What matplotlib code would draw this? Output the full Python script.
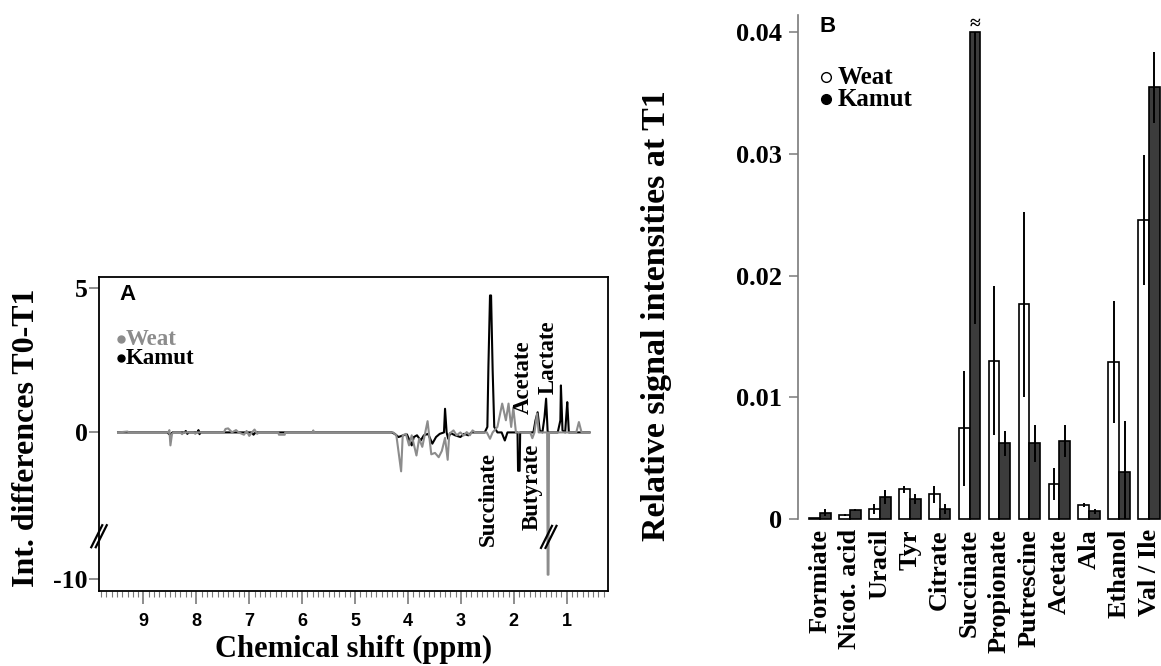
import matplotlib
matplotlib.use("Agg")

import numpy as np
import matplotlib.pyplot as plt
from matplotlib.lines import Line2D
from matplotlib.ticker import MultipleLocator, FormatStrFormatter
from matplotlib.transforms import IdentityTransform

SERIF = ["Liberation Serif", "DejaVu Serif"]
SANS = ["Liberation Sans", "DejaVu Sans"]
NARROW = ["Liberation Sans Narrow", "Liberation Sans", "DejaVu Sans"]

W, H = 1161, 666

# --- panel A: T0-T1 difference spectra (ppm, intensity) vertices ---
weat_ppm = [9.48, 9.30, 9.28, 8.53, 8.51, 8.49, 8.46, 8.43, 8.30, 8.27, 8.24,
            8.05, 8.02, 8.00, 7.48, 7.45, 7.40, 7.35, 7.33, 7.25, 7.20, 7.10,
            7.05, 7.00, 6.95, 6.90, 6.85, 6.82, 6.45, 6.44, 6.33, 6.32, 5.80,
            5.79, 5.78,
            4.28, 4.22, 4.13, 4.10, 4.04, 3.98, 3.93, 3.84, 3.79, 3.73, 3.63,
            3.56, 3.49, 3.42, 3.36, 3.30, 3.25, 3.22, 3.14, 3.08, 3.01, 2.95,
            2.89, 2.83, 2.78, 2.73, 2.51, 2.45, 2.40, 2.31, 2.22, 2.15, 2.10,
            2.05, 2.01, 1.96, 1.69, 1.65, 1.61, 1.56, 1.53, 1.37, 1.36, 1.345,
            1.335, 1.32, 0.82, 0.77, 0.72, 0.57]
weat_int = [0, 0.03, 0, 0, 0.08, -0.45, -0.05, 0, 0, -0.06, 0,
            0, -0.05, 0, 0, 0.12, 0.14, 0.05, 0, 0.08, 0, -0.08,
            0.05, -0.12, 0, 0.1, -0.05, 0, 0, -0.08, -0.08, 0, 0,
            0.07, 0,
            0, -0.10, -1.35, -0.10, -0.05, -0.45, -0.10, -0.80, -0.22, -0.50, 0.39,
            -0.76, -0.71, -0.86, -0.64, -0.19, -0.95, -0.05, 0.07, -0.10, 0, -0.11,
            0.01, -0.10, 0.07, 0, 0, -0.22, 0, 0.19, 1.0, 0.42, 1.0,
            0.19, 0.87, 0, 0, -0.20, 0, 0.65, 0, 0, -9.4, -9.4,
            0, 0, 0, 0.36, 0, 0]

kamut_ppm = [9.48, 8.55, 8.50, 8.45, 8.22, 8.20, 8.17, 8.15, 7.98, 7.96, 7.94,
             7.92, 6.95, 6.92, 6.88,
             4.31, 4.25, 4.18, 4.09, 4.02, 3.93, 3.89, 3.83, 3.76, 3.70, 3.62,
             3.54, 3.47, 3.40, 3.32, 3.30, 3.27, 3.24, 3.20, 3.11, 3.01, 2.94,
             2.86, 2.80, 2.55, 2.50, 2.48, 2.45, 2.43, 2.40, 2.37, 2.31, 2.23,
             2.17, 2.12, 1.93, 1.92, 1.89, 1.88, 1.63, 1.59, 1.55, 1.51, 1.46,
             1.42, 1.39, 1.36, 1.17, 1.12, 1.11, 1.08, 1.03, 1.01, 0.99, 0.96,
             0.57]
kamut_int = [0, 0, -0.08, 0, 0, 0.05, -0.05, 0, 0, 0.08, -0.06,
             0, 0, -0.08, 0,
             0, -0.05, -0.16, -0.10, -0.07, -0.45, -0.16, -0.10, -0.28, -0.10, -0.05,
             -0.39, -0.16, -0.05, 0, 0.82, 0, -0.22, -0.02, -0.10, -0.16, -0.05,
             -0.10, 0, 0, 0.19, 2.30, 4.75, 4.75, 2.15, 0.19, 0, 0,
             -0.28, 0, 0, -1.33, -1.33, 0, 0, 0.42, 0.70, 0.07, 0,
             0.53, 1.17, 0, 0, 0.42, 1.63, 0.07, 0, 0.53, 1.05, 0,
             0]

peak_names = ["Succinate", "Butyrate", "Acetate", "Lactate"]
peak_ppm = [2.48, 1.65, 1.83, 1.35]
peak_level = [-0.68, -0.38, 0.65, 1.34]
peak_below = [True, True, False, False]

# --- panel B: relative signal intensities at T1 ---
metabolites = ["Formiate", "Nicot. acid", "Uracil", "Tyr", "Citrate", "Succinate",
               "Propionate", "Putrescine", "Acetate", "Ala", "Ethanol", "Val / Ile"]
weat_mean = [0.0001, 0.00033, 0.00087, 0.00246, 0.00205, 0.00746,
             0.0130, 0.01764, 0.00292, 0.0012, 0.01293, 0.02455]
weat_err = [0.0, 0.0001, 0.0004, 0.0003, 0.0007, 0.0047,
            0.0061, 0.0076, 0.0013, 0.00016, 0.0050, 0.0053]
kamut_mean = [0.00054, 0.00076, 0.00183, 0.00169, 0.00085, 0.058,
              0.00623, 0.00623, 0.00645, 0.00066, 0.00385, 0.03543]
kamut_err = [0.0003, 0.0001, 0.0006, 0.0004, 0.0004, 0.042,
             0.0010, 0.0015, 0.0013, 0.0002, 0.0042, 0.0029]
y_cap = 0.04

# broken intensity axis: everything below BREAK is squeezed
BREAK = -3.6
SQUEEZE = 0.23


def squeeze(v):
    v = np.asarray(v, dtype=float)
    return np.where(v >= BREAK, v, BREAK + (v - BREAK) * SQUEEZE)


def unsqueeze(t):
    t = np.asarray(t, dtype=float)
    return np.where(t >= BREAK, t, BREAK + (t - BREAK) / SQUEEZE)


def rect(left, top, right, bottom):
    return (left / W, 1 - bottom / H, (right - left) / W, (bottom - top) / H)


def slash_pair(fig, cx, cy, dx=6.0, dy=12.0, gap=4.5):
    # cx, cy in display pixels
    for off in (-gap / 2, gap / 2):
        fig.add_artist(Line2D([cx - dx + off, cx + dx + off], [cy - dy, cy + dy],
                              transform=IdentityTransform(), color="black", lw=1.6,
                              solid_capstyle="butt"))


fig = plt.figure(figsize=(W / 100, H / 100), dpi=100)

# ---------------- panel A ----------------
ax_a = fig.add_axes(rect(99, 277, 608, 591))
ax_a.set_yscale("function", functions=(squeeze, unsqueeze))
ax_a.plot(kamut_ppm, kamut_int, color="black", lw=1.5, zorder=2)
ax_a.plot(weat_ppm, weat_int, color="#8c8c8c", lw=1.5, zorder=3)
ax_a.set_xlim(9.84, 0.22)
ax_a.set_ylim(-11.86, 5.39)

ax_a.xaxis.set_major_locator(MultipleLocator(1))
ax_a.xaxis.set_minor_locator(MultipleLocator(0.1))
ax_a.xaxis.set_major_formatter(FormatStrFormatter("%d"))
ax_a.set_yticks([-10, 0, 5])
ax_a.set_yticklabels(["-10", "0", "5"])
ax_a.yaxis.set_minor_locator(plt.NullLocator())
ax_a.tick_params(axis="x", which="major", direction="out", length=9.5, width=1.2,
                 color="#7a7a7a", pad=6)
ax_a.tick_params(axis="x", which="minor", direction="out", length=4.3, width=0.8,
                 color="#7a7a7a")
ax_a.tick_params(axis="y", direction="out", length=7, width=1.2, color="#7a7a7a", pad=1)
for lab in ax_a.get_xticklabels():
    lab.set_fontfamily(NARROW)
    lab.set_fontweight("bold")
    lab.set_fontsize(13)
for lab in ax_a.get_yticklabels():
    lab.set_fontfamily(SERIF)
    lab.set_fontweight("bold")
    lab.set_fontsize(18.5)
for sp in ax_a.spines.values():
    sp.set_linewidth(1.3)
    sp.set_color("black")

for name, px, lvl, below in zip(peak_names, peak_ppm, peak_level, peak_below):
    ax_a.text(px, lvl, name, rotation=90, ha="center", va="top" if below else "bottom",
              family=SERIF, weight="bold", fontsize=16.5, zorder=4)

ax_a.text(0.041, 0.943, "A", transform=ax_a.transAxes, family=SANS, weight="bold",
          fontsize=16, va="center", ha="left")
ax_a.plot([0.043], [0.802], "o", color="#8c8c8c", ms=5, transform=ax_a.transAxes)
ax_a.plot([0.043], [0.742], "o", color="black", ms=5, transform=ax_a.transAxes)
ax_a.text(0.053, 0.802, "Weat", transform=ax_a.transAxes, family=SERIF, weight="bold",
          fontsize=16.5, color="#8c8c8c", va="center")
ax_a.text(0.053, 0.742, "Kamut", transform=ax_a.transAxes, family=SERIF, weight="bold",
          fontsize=16.5, color="black", va="center")

ax_a.set_xlabel("Chemical shift (ppm)", family=SERIF, weight="bold", fontsize=22, labelpad=4)
fig.text(27 / W, 1 - 438 / H, "Int. differences T0-T1", rotation=90, ha="center",
         va="center", family=SERIF, weight="bold", fontsize=23)

# break marks on the intensity axis and on the big lactate dip
bx, by = ax_a.transData.transform((ax_a.get_xlim()[0], BREAK))
slash_pair(fig, bx, by)
sx, sy = ax_a.transData.transform((1.34, BREAK - 0.1))
slash_pair(fig, sx, sy)

# ---------------- panel B ----------------
ax_b = fig.add_axes(rect(797.7, 15, 1161, 519.3))
x = np.arange(len(metabolites))
width = 0.36
weat_mean = np.array(weat_mean)
kamut_mean = np.array(kamut_mean)
weat_err = np.array(weat_err)
kamut_err = np.array(kamut_err)

ax_b.bar(x - width, np.minimum(weat_mean, y_cap), width, align="edge", color="white",
         edgecolor="black", lw=1.2, clip_on=False, zorder=2)
ax_b.bar(x, np.minimum(kamut_mean, y_cap), width, align="edge", color="#3c3c3c",
         edgecolor="black", lw=1.2, clip_on=False, zorder=2)
ax_b.vlines(x - width / 2, weat_mean - weat_err, np.minimum(weat_mean + weat_err, y_cap),
            color="black", lw=1.4, zorder=3)
ax_b.vlines(x + width / 2, kamut_mean - kamut_err, np.minimum(kamut_mean + kamut_err, y_cap),
            color="black", lw=1.4, zorder=3)

# truncated bar marker
for i in np.where(kamut_mean > y_cap)[0]:
    ax_b.text(i + width / 2, y_cap - 0.0001, "\u2248", ha="center", va="bottom",
              family=SERIF, weight="bold", fontsize=14)

ax_b.set_xlim(-0.746, 11.4)
ax_b.set_ylim(0, 0.04137)
ax_b.set_yticks([0, 0.01, 0.02, 0.03, 0.04])
ax_b.set_yticklabels(["0", "0.01", "0.02", "0.03", "0.04"], family=SERIF,
                     weight="bold", fontsize=19)
ax_b.set_xticks(x)
ax_b.set_xticklabels(metabolites, rotation=90, family=SERIF, weight="bold", fontsize=19)
ax_b.tick_params(axis="x", length=0, pad=7)
ax_b.tick_params(axis="y", direction="out", length=6.5, width=1.1, color="#7a7a7a", pad=5)
for side in ("top", "right", "bottom"):
    ax_b.spines[side].set_visible(False)
ax_b.spines["left"].set_color("#7a7a7a")
ax_b.spines["left"].set_linewidth(1.2)

ax_b.text(0.061, 0.978, "B", transform=ax_b.transAxes, family=SANS, weight="bold",
          fontsize=16, va="center", ha="left")
ax_b.plot([0.078], [0.877], "o", mfc="white", mec="black", mew=1.0, ms=7,
          transform=ax_b.transAxes, clip_on=False)
ax_b.plot([0.078], [0.833], "o", color="black", ms=7, transform=ax_b.transAxes,
          clip_on=False)
ax_b.text(0.111, 0.877, "Weat", transform=ax_b.transAxes, family=SERIF, weight="bold",
          fontsize=18, va="center")
ax_b.text(0.111, 0.833, "Kamut", transform=ax_b.transAxes, family=SERIF, weight="bold",
          fontsize=18, va="center")

fig.text(656 / W, 1 - 316 / H, "Relative signal intensities at T1", rotation=90,
         ha="center", va="center", family=SERIF, weight="bold", fontsize=24.5)

fig.savefig("out.png", dpi=100)
